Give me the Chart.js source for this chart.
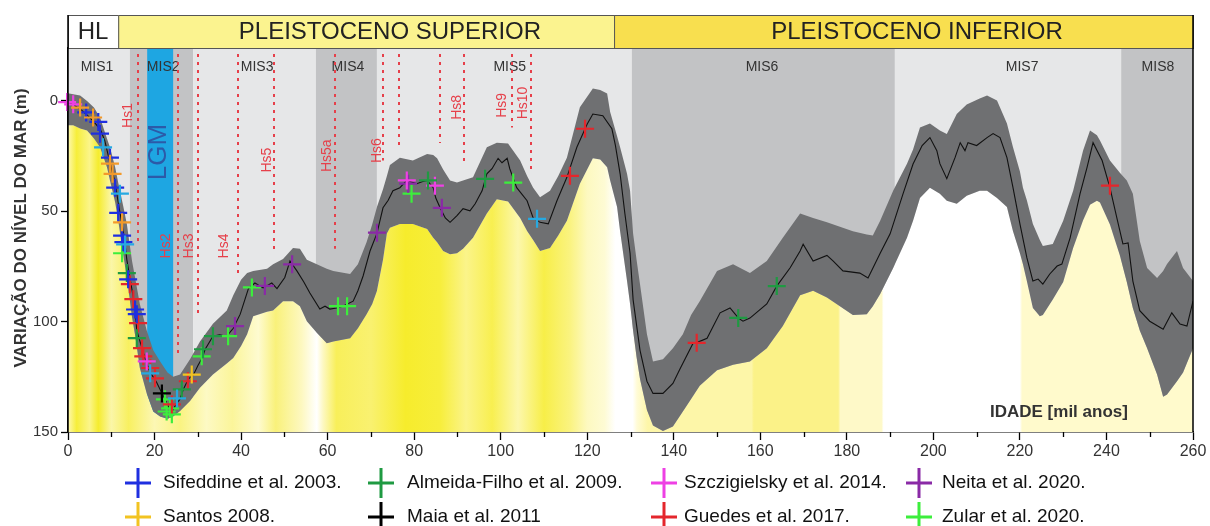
<!DOCTYPE html>
<html lang="pt">
<head>
<meta charset="utf-8">
<title>Variação do nível do mar</title>
<script src="https://cdn.jsdelivr.net/npm/chart.js@4.4.1/dist/chart.umd.min.js"></script>
<style>
  html, body { margin: 0; padding: 0; background: #fff; }
  #wrap { width: 1210px; height: 526px; }
</style>
</head>
<body>
<div id="wrap"><canvas id="grafico" width="1210" height="526"></canvas></div>
<script>
// Curva média do nível do mar (idade em mil anos, nível em m abaixo do atual)
const idadeMedia = [0, 1.5, 3, 4.5, 6, 7.5, 8.5, 9.7, 10.9, 11.6, 12.5, 13.2, 13.6, 14.3, 15.1, 15.5, 15.9, 16.5, 17.4, 18.2,
  19, 20.5, 21.6, 22.4, 23.3, 24, 24.8, 25.9, 26.6, 27.8, 29, 30, 31, 31.7, 33.5, 35, 36.7, 38.2, 39.8, 41.7,
  43.2, 45.1, 47.1, 48.3, 50.1, 51.3, 52.9, 54.5, 55.9, 58.2, 59.4, 60.5, 62.1, 63.5, 65.9, 67, 68.2, 69.8, 71.4, 72.8,
  74, 75.1, 76.7, 78.3, 80.6, 82, 83, 84.4, 85, 86, 87.2, 88.3, 89.9, 91.3, 92.9, 94.1, 95.7, 96.8, 98, 99.4,
  100.3, 101.5, 102.1, 103.7, 106.1, 107.5, 109.1, 111, 113, 115.3, 117.6, 120, 121.3, 123.6, 125.7, 126.5, 127.6, 128.7, 129.9, 130.6,
  132.2, 133.8, 135.2, 137.5, 139.8, 141.4, 144.4, 145.3, 147.7, 150.7, 153, 155, 156, 157.6, 161.5, 163.8, 166.9, 169.2, 169.9, 172.2,
  175.4, 176.8, 179.1, 183, 184.9, 187.7, 190, 193, 195.3, 197.4, 199.2, 200.8, 201.5, 203.1, 205, 206.2, 207.3, 208, 210, 212.4,
  213.8, 215.4, 217, 218.4, 220, 221.6, 223, 224.2, 225.3, 226.9, 228.6, 229.7, 231.6, 233.9, 235.5, 236.9, 239, 240.8, 242.4, 243.8,
  245, 246.1, 247.7, 250, 253.1, 255.1, 257, 258.6, 260];
const nivelMedio = [0.5, 2, 4, 6.5, 9.5, 13, 18, 28, 37, 46, 56, 65, 72, 80, 89, 95, 104, 108, 114, 119,
  123, 127.6, 132, 135, 139, 141, 138, 135, 131, 126, 124, 120, 116.5, 112.5, 106.6, 106, 106.6, 103, 96.6, 85,
  82.5, 84.7, 82.5, 85, 80, 72.5, 77, 82, 87, 94.3, 93, 94.3, 93.8, 93, 90.7, 86, 79.3, 68, 60, 48.4,
  45, 40.7, 39.3, 36, 37.5, 36.5, 36, 39.3, 44, 48.4, 53, 55, 52, 48.8, 49.8, 46.6, 40.7, 33, 30.7, 26,
  28, 26, 30.7, 39.3, 45.2, 53, 55, 55.7, 45.2, 34.6, 21, 10.4, 5.9, 6.7, 12.6, 20, 33, 51, 69, 90,
  113, 127, 132.5, 132.5, 128, 121.6, 110, 109.5, 107.5, 96, 93.8, 98.5, 99.8, 98.4, 92, 83.9, 75.6, 68, 64.9, 72.5,
  70, 72.5, 77, 78, 80.2, 69, 60.2, 42, 28.6, 20.2, 16.6, 22.5, 28.4, 35.2, 25.7, 18.9, 22.5, 18.9, 20.2, 16.6,
  14.8, 16.6, 25.7, 39.3, 55.7, 71, 81.6, 80.7, 83, 78.4, 74.8, 73.9, 62, 42, 30.2, 18.9, 27, 39.3, 53, 64.8,
  64.3, 81.6, 95, 99.8, 103.4, 96, 101.1, 102, 90.7];

// Envelope de incerteza (limite superior e inferior)
const idadeEnvelope = [0, 1.2, 2.8, 4.4, 6, 7.4, 9, 9.7, 10.9, 11.6,
  12.7, 13.6, 14.8, 15.5, 16.6, 18.2, 19.7, 21.3, 23, 24.3,
  25.9, 28.2, 30.5, 33.5, 36.7, 38.2, 40, 41.4, 42.8, 46,
  47.4, 49.7, 52, 53.6, 55.2, 57.5, 59.8, 61.3, 65.2, 67,
  69, 70.3, 71.4, 72.8, 73.7, 74.4, 76.7, 79.7, 83, 84.4,
  85.3, 86.7, 88.3, 89.9, 91.3, 93.6, 96.8, 99.1, 101.7, 104.5,
  106.1, 107.5, 109.1, 111.4, 113.3, 115.3, 118.3, 121.3, 123, 124.6,
  125.3, 126.9, 127.6, 129.2, 129.9, 130.6, 131.4, 132.2, 133.8, 135.2,
  137.5, 139.8, 142.1, 144, 146, 150, 153.7, 157.6, 161.5, 165.2,
  169.2, 172.2, 175.4, 178.4, 181.4, 184.6, 186, 187.7, 190.7, 193.9,
  195.3, 196.9, 199.2, 201.5, 203.1, 205.4, 207.7, 210.7, 212.4, 214.7,
  217, 218.4, 220, 220.7, 221.6, 223, 224.6, 225.3, 227.6, 230,
  232.3, 234.6, 236.2, 237.8, 238.5, 240.8, 243.1, 244.7, 246.1, 247.7,
  249.4, 251.7, 253.1, 254, 256.3, 257.7, 260];
const envSuperior = [-3.5, -3, -2.5, 0, 3, 7.5, 17, 21, 30, 37,
  47, 55.7, 72.5, 80, 92, 104, 113, 118, 123, 125,
  124, 117, 109, 101, 95, 88, 81, 78, 77, 76,
  74, 71.6, 66.6, 67, 72, 74, 76, 77, 78.4, 74,
  64, 56, 48, 40, 34, 29, 25.7, 27, 24, 24.5,
  26, 31, 36, 37, 36, 34.6, 21, 18.9, 19.3, 27,
  34, 39.3, 43.6, 40.7, 34, 25.7, 2.9, -5.7, -5, -3.4,
  5, 16, 21, 33, 40.7, 60, 72, 83, 105.7, 118,
  117, 112, 105.7, 97, 90.7, 77, 74, 78, 72.5, 62,
  51, 53, 55, 57, 59, 60.5, 61, 54.3, 40.7, 28.4,
  22, 12, 10.2, 13.4, 15, 5.9, 1.6, -1.1, -2.5, -0.2,
  10.2, 21, 32, 39.3, 45, 55.7, 63, 65.7, 64.8, 54.3,
  40.7, 22.5, 13.4, 15.5, 17.9, 27, 32.5, 36, 42, 63.4,
  75.7, 80.2, 77, 73.9, 68, 75.7, 81.6];
const envInferior = [11, 11, 12.5, 13.4, 17, 21, 30, 36, 46, 54,
  69, 80, 98, 106, 121, 132.5, 140.7, 143, 144, 143,
  140.5, 136, 130, 124, 119, 116.5, 111, 105.7, 97.5, 95.5,
  95, 90.7, 90.7, 93, 99.8, 105, 109.8, 109, 107.5, 103,
  96.6, 92, 86, 72, 60, 57.5, 55.7, 55.7, 58, 62,
  64, 68, 69.5, 69, 67, 62, 51, 44.5, 45.5, 53,
  58.9, 63, 68, 66.6, 61, 54.3, 37.5, 26, 26.5, 30,
  36, 48, 59, 81.6, 92, 104, 116, 126, 140, 147,
  149.5, 147.5, 140.7, 135, 129, 122, 119.5, 118, 112, 102,
  88, 86, 89, 93, 97, 96.6, 93, 87.5, 75.7, 62,
  54.3, 44, 39.3, 42, 45.2, 46.6, 43, 40.7, 40.7, 44,
  48, 59, 69, 74, 81.6, 93.8, 97.5, 97, 90, 82,
  66.6, 54, 47, 45.2, 46, 56, 70, 82, 93.8, 104,
  112, 124, 134, 133, 127, 123, 112];

// Dados de cada estudo: [idade, nível]
const sifeddine = [[4.2, 5.2], [7, 9.5], [7.4, 14.8], [9.7, 25.7], [10.9, 39.3], [11.6, 50.7], [12.5, 61], [12.8, 64], [13.9, 80.8], [15.5, 94.5], [15.9, 96.6]];
const santos = [[28.6, 124]];
const almeidaFilho = [[13.6, 78], [15.9, 107.5], [26.3, 130.7], [31.2, 112.5], [33.5, 106.6], [83.2, 36], [96.4, 35.3], [154.9, 98.3], [163.8, 83.9]];
const maia = [[21.7, 132.5]];
const szczigielsky = [[-0.2, 0.5], [1.2, 1.5], [18.2, 118], [78.3, 36], [84.8, 38.4]];
const guedes = [[14.3, 83], [15.1, 89.8], [16.2, 100.7], [17.1, 112], [17.4, 115.7], [19, 121], [20.1, 125.7], [24, 137.5], [27.7, 127], [116, 33.9], [119.5, 12.6], [145.3, 109.6], [240.8, 38.4]];
const neita = [[38.6, 102], [45.5, 83.8], [51.8, 74], [71.4, 59.7], [78.6, 37.5], [86.4, 48.4]];
const zular = [[12.5, 69], [22.4, 135.2], [22.8, 140.7], [23.6, 139.3], [24, 142], [30.9, 115.7], [37, 106.6], [42.5, 84.5], [62.4, 93], [64.5, 93], [79.4, 42], [102.9, 37]];
// marcadores sem entrada na legenda (laranja e azul-claro)
const extraLaranja = [[2.8, 3], [5.8, 7.5], [9.7, 28.4], [10.3, 33], [12.5, 55]];
const extraCiano = [[8.1, 21], [12, 42], [13.2, 65], [19, 123.4], [25.2, 134.8], [108.4, 53.4]];

const estudos = ['Sifeddine et al. 2003.', 'Santos 2008.', 'Almeida-Filho et al. 2009.', 'Maia et al. 2011',
  'Szczigielsky et al. 2014.', 'Guedes et al. 2017.', 'Neita et al. 2020.', 'Zular et al. 2020.'];
const dadosEstudos = [sifeddine, santos, almeidaFilho, maia, szczigielsky, guedes, neita, zular];
const coresEstudos = ['#1f2fe0', '#f2c321', '#1f9a42', '#000000', '#ee40e4', '#e4262c', '#8a2aa6', '#3cee3c'];

// Estágios isotópicos marinhos
const misNome = ['MIS1', 'MIS2', 'MIS3', 'MIS4', 'MIS5', 'MIS6', 'MIS7', 'MIS8'];
const misInicio = [0, 14.3, 28.9, 57.3, 71.4, 130.3, 191.1, 243.4];
const misFim = [14.3, 28.9, 57.3, 71.4, 130.3, 191.1, 243.4, 260];
const misRotulo = [6.7, 22, 43.7, 64.7, 102.1, 160.4, 220.5, 251.9];

// Eventos Heinrich (linhas pontilhadas)
const hsNome = ['Hs1', 'Hs2', 'Hs3', 'Hs4', 'Hs5', 'Hs5a', 'Hs6', '', '', 'Hs8', 'Hs9', 'Hs10'];
const hsIdade = [16.2, 25.4, 30.0, 39.3, 47.6, 61.7, 72.8, 76.5, 86.0, 91.5, 102.6, 107.0];
const hsFim = [64.8, 114.8, 98.4, 79.3, 68, 67, 27, 21, 19, 29.3, 12, 33];
const hsRotuloIdade = [13.9, 22.6, 28, 36.1, 46, 59.9, 71.4, 0, 0, 89.9, 100.3, 105.2];
const hsRotuloNivel = [6.6, 65.7, 65.7, 65.7, 26.8, 24.8, 22.5, 0, 0, 2.9, 2, 0.9];

const lgm = [18.3, 24.3];

const periodos = ['HL', 'PLEISTOCENO SUPERIOR', 'PLEISTOCENO INFERIOR'];
const periodoInicio = [0, 11.6, 126.2];
const periodoFim = [11.6, 126.2, 260];
const periodoRotulo = [5.8, 74.4, 196.2];

const ticksNivel = [0, 50, 100, 150];
const ticksIdadeMenores = [10, 30, 50, 70, 90, 110, 130, 150, 170, 190, 210, 230, 250];

// ---- estilos ----
const FONTE = '"Liberation Sans", Arial, Helvetica, sans-serif';
const COR_MIS_CLARO = '#e6e7e8';
const COR_MIS_ESCURO = '#c2c3c5';
const COR_ENVELOPE = '#6f7072';
const COR_HS = '#e6404a';
const CORES_PERIODO = ['#ffffff', '#fbf38f', '#f8df4f'];
const FAIXAS_AMARELAS = [
  [0, '#fdf8b0'], [2, '#f6ee3a'], [5, '#fbf58a'], [7, '#f5ec2e'], [10, '#fbf6a8'], [14, '#f8f060'],
  [20, '#fcf7b4'], [26, '#faf382'], [32, '#fdf9c4'], [38, '#fbf59a'], [44, '#fefbd0'], [48, '#f9f17a'],
  [54, '#fdf8c0'], [57.5, '#ffffff'], [59, '#fdf8c0'], [62, '#f8ef5a'], [70, '#f9f170'], [78, '#f6ec2c'],
  [86, '#f7ee3c'], [92, '#fbf48a'], [98, '#f8ef50'], [104, '#fcf7ac'], [110, '#f7ee48'], [116, '#faf380'],
  [120, '#fdf9c0'], [124, '#fefbd4'], [126.5, '#ffffff'], [130.5, '#ffffff'], [131.5, '#fffbd6'], [134, '#fdf6a8'],
  [158, '#fdf6a8'], [158.5, '#fbf288'], [178, '#fbf288'], [178.5, '#fef9c8'], [188, '#fef9c8'], [188.5, '#ffffff'],
  [220, '#ffffff'], [220.5, '#fffacc'], [260, '#fffacc']
];

const pares = arr => arr.map(([x, y]) => ({ x, y }));
const serie = (xs, ys) => xs.map((x, i) => ({ x, y: ys[i] }));

function gradienteAmarelo(context) {
  const chart = context.chart;
  const { chartArea, scales } = chart;
  if (!chartArea || !scales.x) return '#fbf5a0';
  const x0 = scales.x.getPixelForValue(0), x1 = scales.x.getPixelForValue(260);
  const g = chart.ctx.createLinearGradient(x0, 0, x1, 0);
  FAIXAS_AMARELAS.forEach(([a, c]) => g.addColorStop(a / 260, c));
  return g;
}

function marcadores(label, dados, cor) {
  return {
    label, data: pares(dados), showLine: false, order: 0, clip: false,
    pointStyle: 'cross', pointRadius: 9, pointBorderWidth: 2.2,
    pointBorderColor: cor, pointBackgroundColor: cor, borderColor: cor
  };
}

const datasets = [
  { label: 'inferior', data: serie(idadeEnvelope, envInferior), order: 3, pointRadius: 0,
    borderWidth: 0, borderColor: 'transparent', fill: { value: 150 }, backgroundColor: gradienteAmarelo, tension: 0 },
  { label: 'superior', data: serie(idadeEnvelope, envSuperior), order: 2, pointRadius: 0,
    borderWidth: 0, borderColor: 'transparent', fill: '-1', backgroundColor: COR_ENVELOPE, tension: 0 },
  { label: 'média', data: serie(idadeMedia, nivelMedio), order: 1, pointRadius: 0,
    borderWidth: 1.1, borderColor: '#111', fill: false, tension: 0 },
  marcadores('laranja', extraLaranja, '#f39a2a'),
  marcadores('ciano', extraCiano, '#27a9e1'),
  ...estudos.map((nome, i) => marcadores(nome, dadosEstudos[i], coresEstudos[i]))
];

const fundoPlugin = {
  id: 'fundo',
  beforeDatasetsDraw(chart) {
    const { ctx, chartArea: a, scales: { x, y } } = chart;
    ctx.save();
    misInicio.forEach((ini, i) => {
      const x0 = x.getPixelForValue(ini), x1 = x.getPixelForValue(misFim[i]);
      ctx.fillStyle = i % 2 === 0 ? COR_MIS_CLARO : COR_MIS_ESCURO;
      ctx.fillRect(x0, a.top, x1 - x0, a.bottom - a.top);
    });
    const l0 = x.getPixelForValue(lgm[0]), l1 = x.getPixelForValue(lgm[1]);
    ctx.fillStyle = '#1ea6e2';
    ctx.fillRect(l0, a.top, l1 - l0, a.bottom - a.top);

    ctx.fillStyle = '#333';
    ctx.font = '14px ' + FONTE;
    ctx.textAlign = 'center';
    ctx.textBaseline = 'middle';
    misNome.forEach((n, i) => ctx.fillText(n, x.getPixelForValue(misRotulo[i]), a.top + 19));

    // LGM
    ctx.save();
    ctx.translate((l0 + l1) / 2 - 1, 152);
    ctx.rotate(-Math.PI / 2);
    ctx.fillStyle = '#2c5aa8';
    ctx.font = '26px ' + FONTE;
    ctx.fillText('LGM', 0, 0);
    ctx.restore();

    // Heinrich
    ctx.strokeStyle = COR_HS;
    ctx.lineWidth = 2;
    ctx.setLineDash([3, 5]);
    hsIdade.forEach((h, i) => {
      const px = Math.round(x.getPixelForValue(h));
      ctx.beginPath();
      ctx.moveTo(px, a.top + 6);
      ctx.lineTo(px, y.getPixelForValue(hsFim[i]));
      ctx.stroke();
    });
    ctx.setLineDash([]);
    ctx.fillStyle = COR_HS;
    ctx.font = '14px ' + FONTE;
    hsNome.forEach((n, i) => {
      if (!n) return;
      ctx.save();
      ctx.translate(x.getPixelForValue(hsRotuloIdade[i]), y.getPixelForValue(hsRotuloNivel[i]));
      ctx.rotate(-Math.PI / 2);
      ctx.fillText(n, 0, 0);
      ctx.restore();
    });
    ctx.restore();
  },
  afterDatasetsDraw(chart) {
    const { ctx, chartArea: a } = chart;
    ctx.save();
    ctx.fillStyle = '#333';
    ctx.font = 'bold 17px ' + FONTE;
    ctx.textAlign = 'left';
    ctx.textBaseline = 'middle';
    ctx.fillText('IDADE [mil anos]', 990, a.bottom - 20);
    ctx.restore();
  },
  afterDraw(chart) {
    const { ctx, chartArea: a, scales: { x } } = chart;
    const topo = 15;
    ctx.save();
    // faixa dos períodos
    periodos.forEach((p, i) => {
      const x0 = x.getPixelForValue(periodoInicio[i]), x1 = x.getPixelForValue(periodoFim[i]);
      ctx.fillStyle = CORES_PERIODO[i];
      ctx.fillRect(x0, topo, x1 - x0, a.top - topo);
      ctx.strokeStyle = '#555';
      ctx.lineWidth = 1;
      ctx.strokeRect(x0 + 0.5, topo + 0.5, x1 - x0, a.top - topo);
      ctx.fillStyle = '#222';
      ctx.font = '24px ' + FONTE;
      ctx.textAlign = 'center';
      ctx.textBaseline = 'middle';
      ctx.fillText(p, x.getPixelForValue(periodoRotulo[i]), (topo + a.top) / 2 + 1);
    });
    // bordas laterais
    ctx.strokeStyle = '#000';
    ctx.lineWidth = 1.5;
    ctx.beginPath();
    ctx.moveTo(a.left, topo);
    ctx.lineTo(a.left, a.bottom);
    ctx.moveTo(a.right, topo);
    ctx.lineTo(a.right, a.bottom);
    ctx.stroke();

    // marcas menores do eixo x
    ctx.lineWidth = 1.3;
    ctx.beginPath();
    ticksIdadeMenores.forEach(v => {
      const px = Math.round(x.getPixelForValue(v)) + 0.5;
      ctx.moveTo(px, a.bottom);
      ctx.lineTo(px, a.bottom + 5);
    });
    ctx.stroke();

    // título do eixo y
    ctx.save();
    ctx.translate(21, 228);
    ctx.rotate(-Math.PI / 2);
    ctx.fillStyle = '#333';
    ctx.font = 'bold 17px ' + FONTE;
    ctx.textAlign = 'center';
    ctx.textBaseline = 'middle';
    ctx.fillText('VARIAÇÃO DO NÍVEL DO MAR (m)', 0, 0);
    ctx.restore();

    // legenda (duas linhas por coluna)
    const colCruz = [138, 381, 664, 919];
    const colTexto = [163, 407, 684, 942];
    const linhaY = [483, 517];
    ctx.font = '19px ' + FONTE;
    ctx.textAlign = 'left';
    ctx.textBaseline = 'middle';
    estudos.forEach((nome, i) => {
      const c = Math.floor(i / 2), r = i % 2;
      const cx = colCruz[c], cy = linhaY[r];
      ctx.strokeStyle = coresEstudos[i];
      ctx.lineWidth = 3;
      ctx.beginPath();
      ctx.moveTo(cx - 13, cy);
      ctx.lineTo(cx + 13, cy);
      ctx.moveTo(cx, cy - 15);
      ctx.lineTo(cx, cy + 15);
      ctx.stroke();
      ctx.fillStyle = '#111';
      ctx.fillText(nome, colTexto[c], cy);
    });
    ctx.restore();
  }
};

new Chart(document.getElementById('grafico'), {
  type: 'line',
  data: { datasets },
  plugins: [fundoPlugin],
  options: {
    responsive: false,
    devicePixelRatio: 1,
    animation: false,
    events: [],
    layout: { padding: { top: 48, right: 17, left: 0, bottom: 0 } },
    plugins: { legend: { display: false }, tooltip: { enabled: false } },
    scales: {
      x: {
        type: 'linear', min: 0, max: 260,
        afterFit: s => { s.height = 94; },
        ticks: {
          stepSize: 20, autoSkip: false, maxRotation: 0, padding: 2,
          color: '#333', font: { family: FONTE, size: 16 }
        },
        grid: { drawOnChartArea: false, drawTicks: true, tickLength: 8, color: '#000', tickWidth: 1.3 },
        border: { display: true, color: '#000', width: 1.5 }
      },
      y: {
        type: 'linear', min: -24, max: 150, reverse: true,
        afterFit: s => { s.width = 68; },
        afterBuildTicks: s => { s.ticks = ticksNivel.map(v => ({ value: v })); },
        ticks: { color: '#333', padding: 3, font: { family: FONTE, size: 15 } },
        grid: { drawOnChartArea: false, drawTicks: true, tickLength: 7, color: '#000', tickWidth: 1.3 },
        border: { display: true, color: '#000', width: 1.5 }
      }
    }
  }
});
</script>
</body>
</html>
